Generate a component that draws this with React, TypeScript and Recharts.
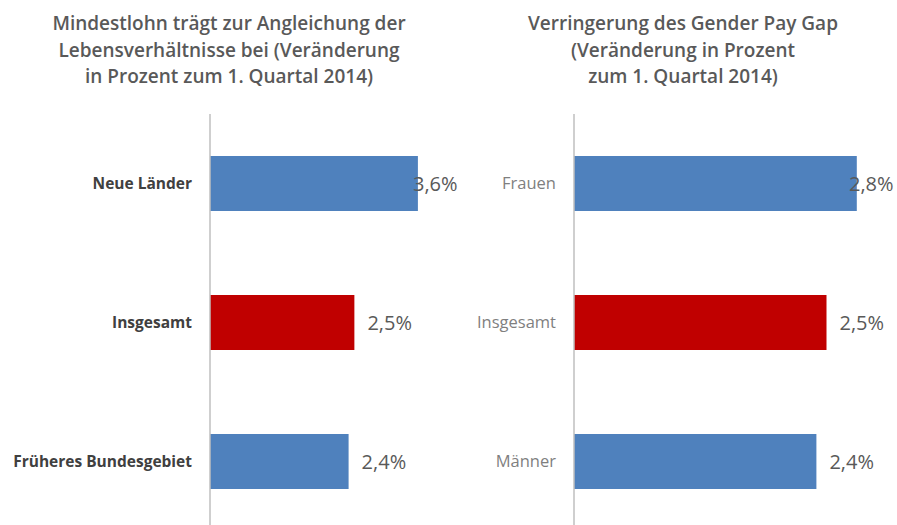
import { BarChart, Bar, XAxis, YAxis, Cell, LabelList } from 'recharts';

const leftCategories = ['Neue Länder', 'Insgesamt', 'Früheres Bundesgebiet'];
const leftValues = [3.6, 2.5, 2.4];
const rightCategories = ['Frauen', 'Insgesamt', 'Männer'];
const rightValues = [2.8, 2.5, 2.4];
const highlight = 'Insgesamt';

const leftTitle = [
  'Mindestlohn trägt zur Angleichung der',
  'Lebensverhältnisse bei (Veränderung',
  'in Prozent zum 1. Quartal 2014)',
];
const rightTitle = [
  'Verringerung des Gender Pay Gap',
  '(Veränderung in Prozent',
  'zum 1. Quartal 2014)',
];

const BLUE = '#4f81bd';
const RED = '#c00000';
const FONT = '"Open Sans", "Liberation Sans", sans-serif';

const fmt = (v: number) => `${v.toFixed(1).replace('.', ',')}%`;

// Excel pulls the label back inside when it would leave the plot area
function makeLabel(plotRight: number) {
  return (props: any) => {
    const { x, y, width, height, value } = props;
    const lx = Math.min(x + width + 13, plotRight - 28);
    return (
      <text
        x={lx}
        y={y + height / 2}
        dy={7}
        fill="#595959"
        fontSize={20}
        fontFamily={FONT}
      >
        {fmt(value)}
      </text>
    );
  };
}

interface PanelProps {
  categories: string[];
  values: number[];
  left: number;
  width: number;
  axisWidth: number;
  rightMargin: number;
  max: number;
  bold: boolean;
  tickColor: string;
  tickSize: number;
}

function Panel(p: PanelProps) {
  const data = p.categories.map((c, i) => ({ name: c, value: p.values[i] }));
  const plotRight = p.width - p.rightMargin;
  return (
    <div style={{ position: 'absolute', left: p.left, top: 114 }}>
      <BarChart
        width={p.width}
        height={417}
        data={data}
        layout="vertical"
        margin={{ top: 0, right: p.rightMargin, bottom: 0, left: 0 }}
        barCategoryGap={0}
      >
        <XAxis type="number" domain={[0, p.max]} hide />
        <YAxis
          type="category"
          dataKey="name"
          width={p.axisWidth}
          axisLine={{ stroke: '#bfbfbf', strokeWidth: 1.5 }}
          tickLine={false}
          tickSize={0}
          tickMargin={18}
          tick={{
            fill: p.tickColor,
            fontSize: p.tickSize,
            fontWeight: p.bold ? 700 : 400,
            fontFamily: FONT,
          }}
        />
        <Bar dataKey="value" barSize={55} isAnimationActive={false}>
          {data.map((d) => (
            <Cell key={d.name} fill={d.name === highlight ? RED : BLUE} />
          ))}
          <LabelList dataKey="value" content={makeLabel(plotRight)} />
        </Bar>
      </BarChart>
    </div>
  );
}

function Title({ lines, center }: { lines: string[]; center: number }) {
  return (
    <div
      style={{
        position: 'absolute',
        left: center - 220,
        width: 440,
        top: 10,
        textAlign: 'center',
        fontFamily: FONT,
        fontSize: 19,
        fontWeight: 600,
        color: '#595959',
        lineHeight: '26.5px',
      }}
    >
      {lines.map((l) => (
        <div key={l}>{l}</div>
      ))}
    </div>
  );
}

export default function App() {
  return (
    <div
      style={{
        position: 'absolute',
        left: 0,
        top: 0,
        width: 897,
        height: 525,
        overflow: 'hidden',
        background: '#ffffff',
      }}
    >
      <Title lines={leftTitle} center={229} />
      <Title lines={rightTitle} center={683} />
      <Panel
        categories={leftCategories}
        values={leftValues}
        left={0}
        width={470}
        axisWidth={210}
        rightMargin={29}
        max={4}
        bold
        tickColor="#404040"
        tickSize={15.5}
      />
      <Panel
        categories={rightCategories}
        values={rightValues}
        left={450}
        width={447}
        axisWidth={124}
        rightMargin={20}
        max={3}
        bold={false}
        tickColor="#7f7f7f"
        tickSize={16.5}
      />
    </div>
  );
}
